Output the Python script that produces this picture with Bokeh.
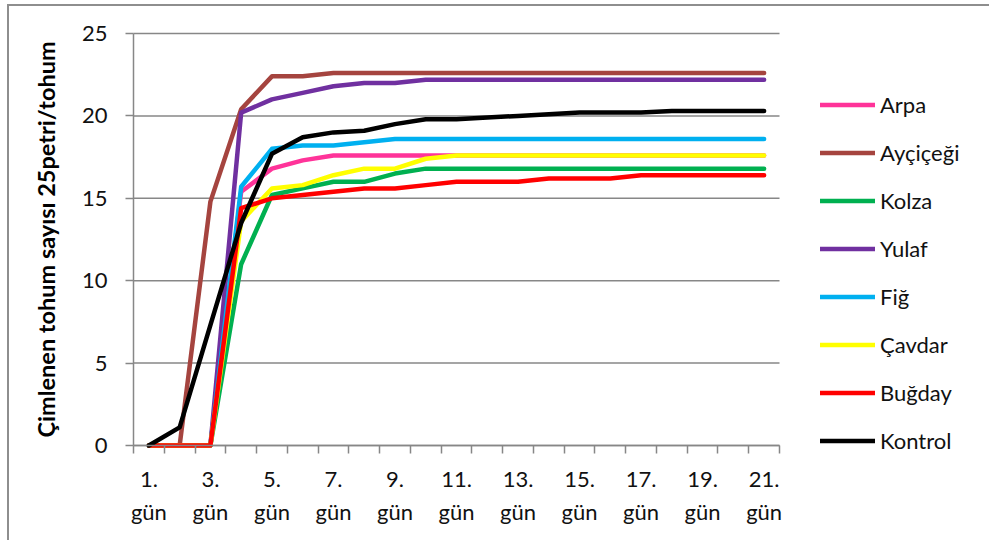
from bokeh.plotting import figure
from bokeh.models import FixedTicker, Legend, LegendItem, Range1d, Title
from bokeh.embed import file_html
from bokeh.resources import INLINE

# Germination counts per day (seeds germinated out of 25 per petri dish)
days = list(range(1, 22))
tick_days = [1, 3, 5, 7, 9, 11, 13, 15, 17, 19, 21]
y_ticks = [0, 5, 10, 15, 20, 25]

arpa = [0, 0, 0, 15.4, 16.8, 17.3, 17.6, 17.6, 17.6, 17.6, 17.6, 17.6, 17.6, 17.6, 17.6, 17.6, 17.6, 17.6, 17.6, 17.6, 17.6]
aycicegi = [0, 0, 14.8, 20.4, 22.4, 22.4, 22.6, 22.6, 22.6, 22.6, 22.6, 22.6, 22.6, 22.6, 22.6, 22.6, 22.6, 22.6, 22.6, 22.6, 22.6]
kolza = [0, 0, 0, 11.0, 15.2, 15.6, 16.0, 16.0, 16.5, 16.8, 16.8, 16.8, 16.8, 16.8, 16.8, 16.8, 16.8, 16.8, 16.8, 16.8, 16.8]
yulaf = [0, 0, 0, 20.2, 21.0, 21.4, 21.8, 22.0, 22.0, 22.2, 22.2, 22.2, 22.2, 22.2, 22.2, 22.2, 22.2, 22.2, 22.2, 22.2, 22.2]
fig_ = [0, 0, 0, 15.7, 18.0, 18.2, 18.2, 18.4, 18.6, 18.6, 18.6, 18.6, 18.6, 18.6, 18.6, 18.6, 18.6, 18.6, 18.6, 18.6, 18.6]
cavdar = [0, 0, 0, 13.6, 15.6, 15.8, 16.4, 16.8, 16.8, 17.4, 17.6, 17.6, 17.6, 17.6, 17.6, 17.6, 17.6, 17.6, 17.6, 17.6, 17.6]
bugday = [0, 0, 0, 14.4, 15.0, 15.2, 15.4, 15.6, 15.6, 15.8, 16.0, 16.0, 16.0, 16.2, 16.2, 16.2, 16.4, 16.4, 16.4, 16.4, 16.4]
kontrol = [0, 1.1, 7.3, 13.5, 17.7, 18.7, 19.0, 19.1, 19.5, 19.8, 19.8, 19.9, 20.0, 20.1, 20.2, 20.2, 20.2, 20.3, 20.3, 20.3, 20.3]

series_names = ["Arpa", "Ayçiçeği", "Kolza", "Yulaf", "Fiğ", "Çavdar", "Buğday", "Kontrol"]
series_values = [arpa, aycicegi, kolza, yulaf, fig_, cavdar, bugday, kontrol]
series_colors = ["#FF3399", "#A5443F", "#00B050", "#7030A0", "#00B0F0", "#FFFF00", "#FF0000", "#000000"]

y_title = "Çimlenen tohum sayısı 25petri/tohum"

FONT = "Lato"
GRID = "#878787"

# The frame covers the tick-label area and the legend area too; both axes
# are pinned at the edges of the day/count span, and the grid is drawn
# only over that span.
X0, X1 = 0.5, 21.5
PX_PER_DAY = 646 / 21
PX_PER_UNIT = 412 / 25
W, H = 982, 536
FRAME_LEFT, AXIS_X, TOP, ZERO_Y = 60, 124, 10, 439

x_start = X0 - (AXIS_X - FRAME_LEFT) / PX_PER_DAY
x_end = X0 + (W - AXIS_X) / PX_PER_DAY
y_start = -(H - ZERO_Y) / PX_PER_UNIT
y_end = 25 + (ZERO_Y - 412 - TOP) / PX_PER_UNIT

p = figure(
    width=W, height=H,
    x_range=Range1d(x_start, x_end), y_range=Range1d(y_start, y_end),
    output_backend="svg", toolbar_location=None,
    min_border_left=FRAME_LEFT, min_border_right=0,
    min_border_top=TOP, min_border_bottom=0,
)
p.styles = {
    "margin-left": "7px", "margin-top": "4px",
    "border-left": "2px solid #8e8e8e", "border-top": "2px solid #8e8e8e",
}
p.outline_line_color = None
p.background_fill_color = "white"
p.border_fill_color = "white"
p.xgrid.grid_line_color = None
p.ygrid.grid_line_color = None

# horizontal grid lines across the day span
p.segment(x0=[X0] * len(y_ticks), x1=[X1] * len(y_ticks), y0=y_ticks, y1=y_ticks,
          line_color=GRID, line_width=1.5)

# y axis
ya = p.yaxis[0]
ya.fixed_location = X0
ya.ticker = FixedTicker(ticks=y_ticks)
ya.bounds = (0, 25)
ya.axis_line_color = GRID
ya.axis_line_width = 1.5
ya.major_tick_line_color = GRID
ya.major_tick_line_width = 1.5
ya.major_tick_out = 8
ya.major_tick_in = 0
ya.minor_tick_line_color = None
ya.major_label_text_font = FONT
ya.major_label_text_font_size = "22px"
ya.major_label_text_color = "#111111"
ya.major_label_standoff = 18

# vertical axis title, starting just above the bottom of the count span
ytitle = Title(text=y_title, align="left", offset=105, standoff=19,
               text_font=FONT, text_font_style="bold", text_font_size="23.5px",
               text_color="#000000")
p.add_layout(ytitle, "left")

# x axis: labels on odd days, tick marks between days
xa = p.xaxis[0]
xa.fixed_location = 0
xa.bounds = (X0, X1)
xa.ticker = FixedTicker(ticks=tick_days, minor_ticks=[d - 0.5 for d in days] + [21.5])
xa.major_label_overrides = {d: f"{d}.\ngün" for d in tick_days}
xa.axis_line_color = GRID
xa.axis_line_width = 1.5
xa.major_tick_line_color = None
xa.major_tick_out = 0
xa.major_tick_in = 0
xa.minor_tick_line_color = GRID
xa.minor_tick_line_width = 1.5
xa.minor_tick_out = 8
xa.minor_tick_in = 0
xa.major_label_text_font = FONT
xa.major_label_text_font_size = "22px"
xa.major_label_text_color = "#111111"
xa.major_label_text_line_height = 1.25
xa.major_label_standoff = 11

items = []
for name, vals, color in zip(series_names, series_values, series_colors):
    r = p.line(days, vals, line_color=color, line_width=4.5,
               line_join="round", line_cap="round")
    items.append(LegendItem(label=name, renderers=[r]))

legend = Legend(
    items=items, location=(687 + AXIS_X - FRAME_LEFT, 88),
    glyph_width=55, glyph_height=27, label_height=27, spacing=21,
    label_standoff=5, padding=0, margin=0,
    label_text_font=FONT, label_text_font_size="22px", label_text_color="#111111",
    border_line_color=None, background_fill_alpha=0,
)
p.add_layout(legend, "center")

open("out.html", "w").write(file_html(p, INLINE))
